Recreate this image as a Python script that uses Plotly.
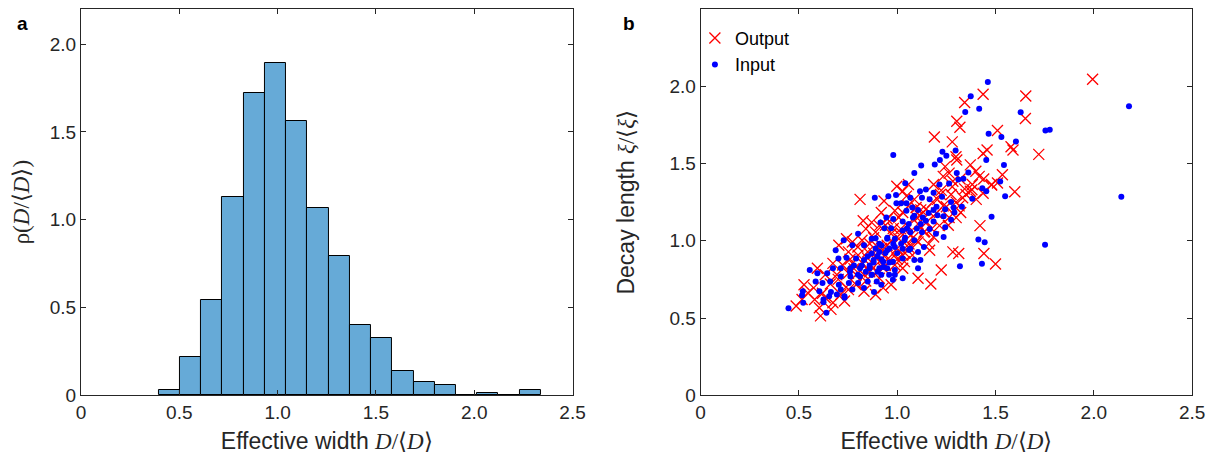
import numpy as np
import plotly.graph_objects as go

# ---------------- Panel a: histogram ----------------
bin_edges = [0.395, 0.503, 0.611, 0.719, 0.827, 0.935, 1.043, 1.151, 1.259, 1.367,
             1.475, 1.583, 1.691, 1.799, 1.907, 2.015, 2.123, 2.231, 2.339]
density = [0.028, 0.216, 0.540, 1.130, 1.719, 1.891, 1.565, 1.068, 0.791, 0.401,
           0.324, 0.137, 0.075, 0.060, 0.0, 0.013, 0.0, 0.028]

# ---------------- Panel b: scatter ----------------
input_x = [0.447, 1.461, 1.374, 1.417, 1.346, 2.179, 1.628, 1.754, 1.776, 1.465, 1.530, 1.604,
           0.980, 1.543, 1.453, 2.140, 1.549, 1.524, 1.480, 1.413, 1.445, 1.752, 1.431, 1.319,
           1.362, 1.337, 1.382, 1.433, 1.453, 1.297, 1.230, 1.250, 1.217, 1.191, 1.122, 1.087,
           1.041, 1.303, 1.311, 1.264, 1.215, 1.185, 1.146, 1.116, 1.126, 1.067, 0.886, 0.955,
           0.994, 1.020, 1.047, 0.996, 1.165, 1.228, 1.274, 1.287, 1.329, 1.244, 1.185, 1.205,
           1.291, 1.236, 1.274, 1.106, 1.077, 1.047, 1.087, 1.146, 1.185, 1.120, 1.059, 1.028,
           0.980, 0.945, 0.915, 0.935, 0.969, 1.028, 1.067, 1.126, 1.165, 1.244, 1.236, 1.197,
           0.801, 0.870, 0.890, 0.909, 0.949, 0.988, 1.037, 1.087, 1.136, 1.106, 1.067, 1.028,
           0.988, 0.949, 0.909, 0.870, 0.831, 0.772, 0.728, 0.687, 0.701, 0.742, 0.791, 0.831,
           0.880, 0.929, 0.978, 1.028, 1.087, 1.118, 1.106, 0.988, 0.949, 0.909, 0.860, 0.811,
           0.762, 0.713, 0.673, 0.555, 0.594, 0.644, 0.659, 0.713, 0.762, 0.811, 0.870, 0.919,
           0.988, 0.896, 0.850, 0.801, 0.754, 0.703, 0.620, 0.585, 0.604, 0.663, 0.713, 0.772,
           0.831, 0.882, 0.919, 0.693, 0.732, 0.654, 0.625, 0.625, 0.520, 0.516, 0.522, 0.640,
           0.732, 0.959, 0.978, 1.028,
           0.86, 0.88, 0.90, 0.92, 0.94, 0.96, 0.98, 1.00, 0.90, 0.87, 0.84, 0.82, 0.80, 0.93,
           0.96, 1.02, 1.04, 1.06, 0.95, 0.92, 0.89, 0.85, 0.78, 0.76, 1.10, 1.13, 1.16, 1.20,
           1.08, 1.05]
input_y = [0.563, 2.028, 1.935, 1.854, 1.833, 1.871, 1.831, 1.714, 1.718, 1.693, 1.672, 1.642,
           1.555, 1.491, 1.523, 1.285, 1.289, 1.383, 1.155, 1.009, 0.990, 0.975, 0.852, 0.835,
           1.442, 1.401, 1.272, 1.340, 1.321, 1.585, 1.576, 1.551, 1.523, 1.493, 1.487, 1.438,
           1.372, 1.438, 1.396, 1.370, 1.364, 1.311, 1.332, 1.321, 1.279, 1.279, 1.279, 1.289,
           1.296, 1.243, 1.243, 1.243, 1.268, 1.285, 1.251, 1.215, 1.221, 1.204, 1.200, 1.166,
           1.183, 1.158, 1.136, 1.200, 1.215, 1.194, 1.162, 1.130, 1.124, 1.109, 1.109, 1.124,
           1.141, 1.151, 1.119, 1.081, 1.081, 1.066, 1.056, 1.056, 1.077, 1.088, 1.024, 1.045,
           1.045, 1.013, 1.017, 0.981, 1.013, 1.013, 1.003, 1.003, 0.960, 0.928, 0.949, 0.949,
           0.960, 0.939, 0.928, 0.918, 0.971, 0.971, 1.003, 0.939, 0.886, 0.890, 0.886, 0.875,
           0.875, 0.865, 0.865, 0.886, 0.875, 0.875, 0.822, 0.811, 0.822, 0.822, 0.822, 0.822,
           0.822, 0.822, 0.822, 0.811, 0.790, 0.790, 0.737, 0.769, 0.769, 0.769, 0.780, 0.780,
           0.780, 0.737, 0.737, 0.726, 0.726, 0.716, 0.726, 0.737, 0.673, 0.669, 0.684, 0.684,
           0.695, 0.669, 0.716, 0.652, 0.641, 0.641, 0.620, 0.603, 0.673, 0.648, 0.599, 0.535,
           0.631, 0.780, 0.748, 0.758,
           0.84, 0.86, 0.90, 0.88, 0.92, 0.95, 0.98, 0.92, 0.80, 0.78, 0.80, 0.84, 0.78, 0.83,
           0.86, 0.98, 1.02, 0.94, 1.02, 0.97, 0.95, 0.90, 0.84, 0.80, 1.08, 1.15, 1.18, 1.22,
           1.15, 1.08]

output_x = [1.994, 1.437, 1.654, 1.343, 1.652, 1.303, 1.319, 1.510, 1.189, 1.280, 1.579, 1.589,
            1.457, 1.437, 1.720, 1.299, 1.303, 1.372, 1.535, 1.417, 1.264, 1.234, 1.185, 1.480,
            1.598, 1.437, 1.372, 1.343, 1.402, 1.315, 1.323, 1.234, 1.205, 1.264, 1.165, 1.087,
            1.047, 1.028, 1.057, 0.998, 0.933, 0.811, 0.919, 0.988, 1.008, 0.827, 0.841, 0.890,
            0.909, 1.106, 1.136, 1.185, 1.165, 1.106, 1.067, 1.421, 1.283, 1.313, 1.441, 1.500,
            1.224, 1.106, 1.171, 0.742, 0.703, 0.752, 0.801, 0.850, 0.890, 0.939, 0.988, 1.028,
            1.037, 0.988, 0.929, 0.860, 0.772, 0.722, 0.673, 0.594, 0.634, 0.693, 0.752, 0.831,
            0.909, 0.969, 0.929, 0.890, 0.831, 0.791, 0.752, 0.713, 0.732, 0.673, 0.634, 0.575,
            0.526, 0.545, 0.516, 0.486, 0.604, 0.610, 0.663, 0.791, 0.900, 0.949, 1.008, 1.057,
            1.077, 0.969, 1.018, 1.116, 1.146, 1.096, 1.224, 1.274, 1.283, 1.333, 1.382, 1.244,
            1.510, 1.175, 1.215, 0.949, 0.870, 1.028, 1.057, 0.821, 0.772, 0.860, 0.850, 0.909,
            1.028,
            0.78, 0.82, 0.86, 0.88, 0.92, 0.95, 0.97, 1.00, 1.02, 1.05, 1.08, 1.10, 1.12, 1.15,
            1.18, 1.20, 1.22, 1.25, 1.28, 1.30, 1.32, 0.70, 0.74, 0.66, 0.62, 0.58, 0.84, 0.90,
            0.94, 1.00, 1.04, 1.10, 1.14, 1.16, 1.06, 0.98, 0.94, 0.88, 0.80, 0.76, 1.26, 1.30,
            1.35, 1.38, 1.40, 1.44, 1.48]
output_y = [2.045, 1.948, 1.937, 1.895, 1.791, 1.774, 1.735, 1.714, 1.672, 1.640, 1.608, 1.587,
            1.587, 1.565, 1.559, 1.544, 1.523, 1.491, 1.427, 1.417, 1.438, 1.417, 1.364, 1.364,
            1.317, 1.308, 1.321, 1.336, 1.268, 1.226, 1.183, 1.226, 1.268, 1.151, 1.183, 1.268,
            1.289, 1.321, 1.364, 1.353, 1.257, 1.268, 1.183, 1.194, 1.151, 1.130, 1.077, 1.056,
            1.098, 1.109, 1.056, 1.024, 0.939, 0.992, 1.034, 1.098, 0.928, 0.918, 0.918, 0.850,
            0.811, 0.758, 0.720, 1.013, 0.971, 0.928, 0.907, 0.928, 0.896, 0.907, 0.907, 0.907,
            0.865, 0.843, 0.822, 0.843, 0.854, 0.843, 0.854, 0.822, 0.780, 0.780, 0.790, 0.780,
            0.758, 0.716, 0.695, 0.652, 0.673, 0.716, 0.684, 0.652, 0.610, 0.599, 0.631, 0.695,
            0.716, 0.663, 0.620, 0.578, 0.567, 0.514, 0.556, 0.780, 0.960, 0.971, 1.013, 0.960,
            0.907, 1.045, 1.077, 1.162, 1.204, 1.215, 1.326, 1.300, 1.385, 1.279, 1.364, 1.480,
            1.374, 1.077, 1.098, 1.141, 1.119, 1.183, 1.226, 1.003, 0.992, 0.981, 0.886, 0.865,
            0.822,
            0.82, 0.86, 0.80, 0.92, 0.95, 0.88, 1.00, 0.95, 1.05, 1.10, 1.02, 1.15, 1.20, 1.12,
            1.25, 1.18, 1.30, 1.22, 1.35, 1.25, 1.40, 0.75, 0.70, 0.72, 0.66, 0.62, 0.74, 0.80,
            0.84, 0.88, 0.92, 1.00, 1.06, 0.98, 0.98, 1.08, 1.10, 1.02, 0.96, 0.88, 1.10, 1.15,
            1.30, 1.33, 1.45, 1.40, 1.36]

tick_vals = [0, 0.5, 1.0, 1.5, 2.0, 2.5]
tick_text = ["0", "0.5", "1.0", "1.5", "2.0", "2.5"]

AX = "#262626"
SANS = "Liberation Sans, Arial, sans-serif"

edges = np.array(bin_edges)
centers = (edges[:-1] + edges[1:]) / 2
widths = edges[1:] - edges[:-1]

fig = go.Figure()
fig.add_trace(go.Bar(
    x=centers, y=density, width=widths,
    marker=dict(color="#66AAD7", line=dict(color="#000000", width=1)),
    showlegend=False, xaxis="x", yaxis="y"))

fig.add_trace(go.Scatter(
    x=output_x, y=output_y, mode="markers", name="Output",
    marker=dict(symbol="x-thin", size=11, line=dict(color="#FF0000", width=1.3), color="#FF0000"),
    xaxis="x2", yaxis="y2"))
fig.add_trace(go.Scatter(
    x=input_x, y=input_y, mode="markers", name="Input",
    marker=dict(symbol="circle", size=6, color="#0000FF", line=dict(width=0)),
    xaxis="x2", yaxis="y2"))

serif_D = "<span style='font-family:Liberation Serif'><i>D</i>/⟨<i>D</i>⟩</span>"
xtitle = "Effective width " + serif_D

common = dict(showgrid=False, zeroline=False, showline=True, linecolor=AX, linewidth=1,
              mirror="allticks", ticks="inside", ticklen=5, tickcolor=AX, tickwidth=1,
              tickfont=dict(family=SANS, size=19, color=AX), tickvals=tick_vals,
              ticktext=tick_text)

# Figure is 1206x446; with the page's default 8px body margin it fills 1222x462.
TFS = 23
fig.update_layout(
    width=1206, height=446,
    margin=dict(l=0, r=0, t=0, b=0),
    paper_bgcolor="white", plot_bgcolor="white",
    font=dict(family=SANS, color=AX),
    bargap=0,
    xaxis=dict(domain=[0.0572, 0.4710], range=[0, 2.5], anchor="y",
               title=dict(text=xtitle, font=dict(size=TFS, color=AX), standoff=10), **common),
    yaxis=dict(domain=[0.1099, 1.0], range=[0, 2.2], anchor="x",
               title=dict(text="<span style='font-family:Liberation Serif'>ρ(<i>D</i>/⟨<i>D</i>⟩)</span>",
                          font=dict(size=TFS, color=AX), standoff=13), **common),
    xaxis2=dict(domain=[0.5788, 0.9925], range=[0, 2.5], anchor="y2",
                title=dict(text=xtitle, font=dict(size=TFS, color=AX), standoff=10), **common),
    yaxis2=dict(domain=[0.1099, 1.0], range=[0, 2.5], anchor="x2",
                title=dict(text="Decay length <span style='font-family:Liberation Serif'><i>ξ</i>/⟨<i>ξ</i>⟩</span>",
                           font=dict(size=TFS, color=AX), standoff=28), **common),
    legend=dict(x=0.574, y=0.975, xanchor="left", yanchor="top", bgcolor="rgba(0,0,0,0)",
                font=dict(family=SANS, size=18, color="#000000"), itemwidth=30,
                tracegroupgap=0),
    annotations=[
        dict(text="<b>a</b>", x=0.002, y=0.995, xref="paper", yref="paper", showarrow=False,
             xanchor="left", yanchor="top", font=dict(family=SANS, size=19, color="#000000")),
        dict(text="<b>b</b>", x=0.512, y=0.995, xref="paper", yref="paper", showarrow=False,
             xanchor="left", yanchor="top", font=dict(family=SANS, size=19, color="#000000")),
    ],
)

fig.write_html("out.html", config={"displayModeBar": False})
